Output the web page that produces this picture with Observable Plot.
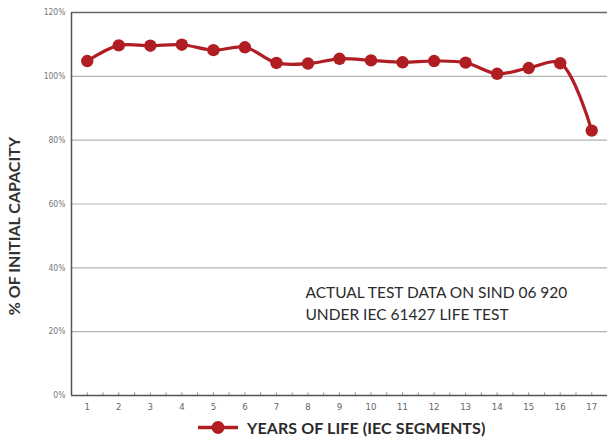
<!DOCTYPE html>
<html>
<head>
<meta charset="utf-8">
<script src="https://cdn.jsdelivr.net/npm/d3@7"></script>
<script src="https://cdn.jsdelivr.net/npm/@observablehq/plot@0.6"></script>
<style>
  html, body { margin: 0; padding: 0; background: #fff; }
  #wrap { position: relative; width: 607px; height: 437px; overflow: hidden; }
  #legend { position: absolute; left: 198px; top: 419px; height: 17px; display: flex; align-items: center;
    font-family: Lato, "Open Sans", sans-serif; font-weight: 700; font-size: 16px; line-height: 17px; color: #2b2b2b; letter-spacing: 0.1px; }
  #legend svg { margin-right: 9px; }
</style>
</head>
<body>
<div id="wrap">
  <div id="chart"></div>
  <div id="legend"></div>
</div>
<script>
const years = [1,2,3,4,5,6,7,8,9,10,11,12,13,14,15,16,17];
const capacity = [104.8,109.7,109.6,109.9,108.2,109.1,104.2,104.0,105.5,105.0,104.4,104.8,104.3,100.8,102.6,104.1,83.0];
const yTicks = [0,20,40,60,80,100,120];
const gridLines = [20,40,60,80,100];
const halfTicks = d3.range(1, 17.51, 0.5);
const yTitle = "% OF INITIAL CAPACITY";
const noteLines = ["ACTUAL TEST DATA ON SIND 06 920", "UNDER IEC 61427 LIFE TEST"];
const noteAt = {x: 7.92, y: 35.4};
const legendLabel = "YEARS OF LIFE (IEC SEGMENTS)";
const red = "#b01e24";

const data = years.map((y, i) => ({year: y, value: capacity[i]}));

const chart = Plot.plot({
  width: 607,
  height: 420,
  marginLeft: 71,
  marginRight: 0,
  marginTop: 12,
  marginBottom: 25,
  style: {fontFamily: "'Liberation Sans Narrow', 'DejaVu Sans Condensed', 'Liberation Sans', sans-serif", background: "#fff"},
  x: {domain: [0.5, 17.5]},
  y: {domain: [0, 120]},
  marks: [
    Plot.ruleY(gridLines, {stroke: "#b4b4b4", strokeWidth: 1.2}),
    Plot.ruleY([120], {stroke: "#666", strokeWidth: 1.3}),
    Plot.ruleY([0], {stroke: "#555", strokeWidth: 1.5}),
    Plot.ruleX([0.5], {stroke: "#555", strokeWidth: 1.5}),
    Plot.ruleX(halfTicks, {x: d => d, y1: 0, y2: 0.8, stroke: "#888", strokeWidth: 1}),
    Plot.axisX({ticks: years, tickSize: 0, tickPadding: 8, fontSize: 9.5, fill: "#666", label: null}),
    Plot.axisY({ticks: yTicks, tickSize: 0, tickPadding: 6, fontSize: 8.5, fill: "#777", tickFormat: d => d + "%", label: null}),
    Plot.line(data, {x: "year", y: "value", stroke: red, strokeWidth: 3.2, curve: "catmull-rom"}),
    Plot.dot(data, {x: "year", y: "value", r: 6.2, fill: red}),
    Plot.text([noteLines.join("\n")], {x: noteAt.x, y: noteAt.y, textAnchor: "start", lineAnchor: "top", lineHeight: 1.4,
      fontSize: 15.5, fill: "#2b2b2b", fontFamily: "Lato, 'Open Sans', sans-serif"}),
    Plot.text([yTitle], {frameAnchor: "left", textAnchor: "middle", dx: -57, dy: 22, rotate: -90, fontSize: 16, fontWeight: 700,
      fill: "#333", fontFamily: "Lato, 'Open Sans', sans-serif", letterSpacing: 1.6})
  ]
});
document.getElementById("chart").appendChild(chart);

const legend = document.getElementById("legend");
legend.innerHTML = `<svg width="40" height="17"><line x1="0" x2="40" y1="8.5" y2="8.5" stroke="${red}" stroke-width="3.5"/><circle cx="20" cy="8.5" r="6.5" fill="${red}"/></svg><span>${legendLabel}</span>`;
</script>
</body>
</html>
